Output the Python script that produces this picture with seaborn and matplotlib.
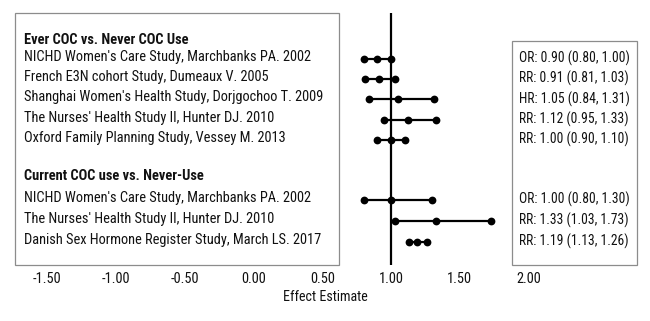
import matplotlib
matplotlib.use("Agg")
import matplotlib.pyplot as plt
import seaborn as sns
import pandas as pd
from matplotlib.patches import Rectangle
from matplotlib import font_manager as fm

# ---------------- data ----------------
group_titles = ["Ever COC vs. Never COC Use", "Current COC use vs. Never-Use"]

ever_studies = [
    "NICHD Women's Care Study, Marchbanks PA. 2002",
    "French E3N cohort Study, Dumeaux V. 2005",
    "Shanghai Women's Health Study, Dorjgochoo T. 2009",
    "The Nurses' Health Study II, Hunter DJ. 2010",
    "Oxford Family Planning Study, Vessey M. 2013",
]
ever_measure = ["OR", "RR", "HR", "RR", "RR"]
ever_est = [0.90, 0.91, 1.05, 1.12, 1.00]
ever_low = [0.80, 0.81, 0.84, 0.95, 0.90]
ever_high = [1.00, 1.03, 1.31, 1.33, 1.10]

cur_studies = [
    "NICHD Women's Care Study, Marchbanks PA. 2002",
    "The Nurses' Health Study II, Hunter DJ. 2010",
    "Danish Sex Hormone Register Study, March LS. 2017",
]
cur_measure = ["OR", "RR", "RR"]
cur_est = [1.00, 1.33, 1.19]
cur_low = [0.80, 1.03, 1.13]
cur_high = [1.30, 1.73, 1.26]

tick_values = [-1.5, -1.0, -0.5, 0.0, 0.5, 1.0, 1.5, 2.0]
tick_labels = ["-1.50", "-1.00", "-0.50", "0.00", "0.50", "1.00", "1.50", "2.00"]
x_label = "Effect Estimate"
null_value = 1.0

# ---------------- layout (pixel units) ----------------
W, H = 650, 321
px_per_unit = 137.5
null_px = 391
g1_start, g1_step = 59, 20.2
g2_start, g2_step = 200, 21.0
hdr_offset = 19
axes_bottom_px = 265

rows = []
for i, (s, m, e, lo, hi) in enumerate(zip(ever_studies, ever_measure, ever_est, ever_low, ever_high)):
    rows.append(dict(study=f"g1_{i}", label=s, m=m, est=e, lo=lo, hi=hi, y=g1_start + i * g1_step))
for i, (s, m, e, lo, hi) in enumerate(zip(cur_studies, cur_measure, cur_est, cur_low, cur_high)):
    rows.append(dict(study=f"g2_{i}", label=s, m=m, est=e, lo=lo, hi=hi, y=g2_start + i * g2_step))
meta = pd.DataFrame(rows)
long = pd.concat([
    meta.assign(value=meta["lo"], k=0),
    meta.assign(value=meta["est"], k=1),
    meta.assign(value=meta["hi"], k=2),
]).sort_values(["study", "k"])

sns.set_theme(style="white")
available = {f.name for f in fm.fontManager.ttflist}
prefs = ["Liberation Sans Narrow", "Arial Narrow", "Roboto Condensed", "Archivo Narrow",
         "PT Sans Narrow", "Barlow Semi Condensed", "Liberation Sans"]
main_font = next((p for p in prefs if p in available), "DejaVu Sans")
FONT = [main_font, "DejaVu Sans"]
plt.rcParams["font.family"] = FONT

fig = plt.figure(figsize=(W / 100, H / 100), dpi=100)
renderer = fig.canvas.get_renderer()


def fit_size(s, target_px, weight="normal"):
    t = fig.text(0, 0, s, fontsize=10, fontweight=weight)
    w = t.get_window_extent(renderer=renderer).width
    t.remove()
    return 10 * target_px / w


fs_row = fit_size(ever_studies[0], 288)
fs_hdr = fit_size(group_titles[0], 164, "bold")
fs_val = fit_size("OR: 0.90 (0.80, 1.00)", 109)
fs_lab = fit_size(x_label, 84)

# overlay in pixel coordinates for boxes / text
ov = fig.add_axes([0, 0, 1, 1])
ov.set_xlim(0, W)
ov.set_ylim(H, 0)
ov.axis("off")

# data axes: full width, top to box bottom
ax = fig.add_axes([0, (H - axes_bottom_px) / H, 1, axes_bottom_px / H])
ax.set_xlim(null_value - null_px / px_per_unit, null_value + (W - null_px) / px_per_unit)
ax.set_ylim(axes_bottom_px, 0)
ax.patch.set_alpha(0)

edge = "#8c8c8c"
ov.add_patch(Rectangle((15, 13), 324, 252, fill=False, edgecolor=edge, linewidth=0.9))
ov.add_patch(Rectangle((512, 41), 125, 224, fill=False, edgecolor=edge, linewidth=0.9))

ax.vlines(null_value, 13, axes_bottom_px + 1, color="black", linewidth=1.6, zorder=1)

sns.lineplot(data=long, x="value", y="y", units="study", estimator=None, sort=False,
             color="black", marker="o", markersize=5.6, markeredgewidth=0,
             linewidth=1.6, legend=False, ax=ax, zorder=3)

tc = "#111111"
ov.text(24, g1_start - hdr_offset, group_titles[0], fontsize=fs_hdr, fontweight="bold",
        va="center", ha="left", color=tc)
ov.text(24, g2_start - hdr_offset - 5, group_titles[1], fontsize=fs_hdr, fontweight="bold",
        va="center", ha="left", color=tc)
for _, r in meta.iterrows():
    ov.text(24, r["y"] - 2, r["label"], fontsize=fs_row, va="center", ha="left", color=tc)
    ov.text(519, r["y"] - 0.5, f"{r['m']}: {r['est']:.2f} ({r['lo']:.2f}, {r['hi']:.2f})",
            fontsize=fs_val, va="center", ha="left", color=tc)

ax.set_xticks(tick_values)
ax.set_xticklabels(tick_labels, fontsize=fs_row, color=tc)
ax.set_yticks([])
ax.tick_params(axis="x", length=0, pad=5)
ax.set_ylabel("")
ax.set_xlabel(x_label, fontsize=fs_lab, labelpad=3, color=tc)
for sp in ax.spines.values():
    sp.set_visible(False)

fig.savefig("out.png", dpi=100)
